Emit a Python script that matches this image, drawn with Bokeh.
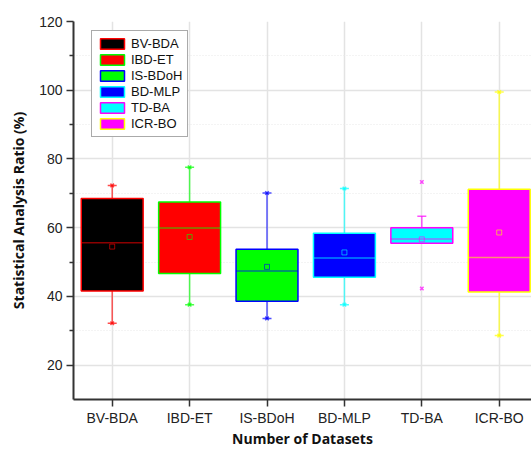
from bokeh.plotting import figure
from bokeh.models import ColumnDataSource, FixedTicker, Legend, LegendItem
from bokeh.embed import file_html
from bokeh.resources import INLINE

# ---- data ----
categories = ["BV-BDA", "IBD-ET", "IS-BDoH", "BD-MLP", "TD-BA", "ICR-BO"]
q1 = [41.6, 46.7, 38.6, 45.6, 55.5, 41.3]
q3 = [68.5, 67.5, 53.7, 58.4, 60.0, 71.2]
medians = [55.6, 59.9, 47.4, 51.2, 56.7, 51.3]
means = [54.5, 57.3, 48.6, 52.8, 56.6, 58.6]
whisker_low = [32.2, 37.6, 33.6, 37.6, 55.5, 28.6]
whisker_high = [72.3, 77.6, 70.1, 71.4, 63.3, 99.5]
extreme_min = [32.2, 37.6, 33.6, 37.6, 42.3, 28.6]
extreme_max = [72.3, 77.6, 70.1, 71.4, 73.3, 99.5]
y_ticks = [20, 40, 60, 80, 100, 120]
y_minor = [30, 50, 70, 90, 110]

fills = ["#000000", "#ff0000", "#00ff00", "#0000ff", "#00ffff", "#ff00ff"]
edges = ["#ff0000", "#00ff00", "#0000ff", "#00ffff", "#ff00ff", "#ffff00"]

xs = list(range(1, len(categories) + 1))
box_w = 0.8

src = ColumnDataSource(dict(
    x=xs, cat=categories, q1=q1, q3=q3, med=medians, mean=means,
    wlo=whisker_low, whi=whisker_high, emin=extreme_min, emax=extreme_max,
    x0=[x - box_w / 2 for x in xs], x1=[x + box_w / 2 for x in xs],
    fill=fills, edge=edges,
))

p = figure(width=531, height=450, output_backend="svg", toolbar_location=None,
           x_range=(0.5, 6.417), y_range=(10, 120),
           min_border_left=73, min_border_right=0, min_border_top=21, min_border_bottom=51)
p.outline_line_color = None
p.background_fill_color = "white"

# grids
p.xgrid.ticker = FixedTicker(ticks=xs)
p.xgrid.grid_line_color = "#e3e3e3"
p.xgrid.grid_line_width = 1.5
p.ygrid.ticker = FixedTicker(ticks=y_ticks, minor_ticks=y_minor)
p.ygrid.grid_line_color = "#e3e3e3"
p.ygrid.grid_line_width = 1.5
p.ygrid.minor_grid_line_color = "#e8e8e8"
p.ygrid.minor_grid_line_dash = "1 2"
p.ygrid.minor_grid_line_width = 1

# whiskers
p.segment(x0="x", y0="q3", x1="x", y1="whi", line_color="edge", line_alpha=0.65, line_width=1.5, source=src)
p.segment(x0="x", y0="q1", x1="x", y1="wlo", line_color="edge", line_alpha=0.65, line_width=1.5, source=src)
p.scatter(x="x", y="whi", marker="dash", size=9, line_color="edge", line_alpha=0.7, line_width=1.5, source=src)
p.scatter(x="x", y="wlo", marker="dash", size=9, line_color="edge", line_alpha=0.7, line_width=1.5, source=src)
p.scatter(x="x", y="emax", marker="x", size=5, line_color="edge", line_alpha=0.7, line_width=1.5, source=src)
p.scatter(x="x", y="emin", marker="x", size=5, line_color="edge", line_alpha=0.7, line_width=1.5, source=src)

# boxes
boxes = p.vbar(x="x", width=box_w, top="q3", bottom="q1", fill_color="fill",
               line_color="edge", line_width=1.5, source=src)
# medians and means
p.segment(x0="x0", y0="med", x1="x1", y1="med", line_color="edge", line_alpha=0.55, line_width=1.5, source=src)
p.scatter(x="x", y="mean", marker="square", size=5, fill_color=None, line_color="edge",
          line_alpha=0.6, line_width=1, source=src)

# legend
legend = Legend(items=[LegendItem(label=dict(field="cat"), renderers=[boxes])], location=(18, 262))
p.add_layout(legend, "center")
legend.border_line_color = "#555555"
legend.border_line_width = 1
legend.background_fill_alpha = 1
legend.padding = 5
legend.spacing = 1
legend.margin = 0
legend.glyph_width = 30
legend.glyph_height = 13
legend.label_height = 13
legend.label_standoff = 4
legend.label_text_font = "Liberation Sans"
legend.label_text_font_size = "13px"
legend.label_text_color = "#111111"

# axes
for ax in (p.xaxis[0], p.yaxis[0]):
    ax.axis_line_color = "#333333"
    ax.axis_line_width = 2
    ax.major_tick_line_color = "#333333"
    ax.major_tick_line_width = 1.5
    ax.minor_tick_line_color = "#333333"
    ax.minor_tick_line_width = 1.5
    ax.major_tick_in = 0
    ax.major_tick_out = 7
    ax.minor_tick_in = 0
    ax.minor_tick_out = 4
    ax.major_label_text_font = "Liberation Sans"
    ax.major_label_text_font_size = "14px"
    ax.major_label_text_color = "#222222"
    ax.axis_label_text_font = "Open Sans"
    ax.axis_label_text_font_style = "bold"
    ax.axis_label_text_font_size = "14px"
    ax.axis_label_text_color = "#111111"

p.xaxis.ticker = FixedTicker(ticks=xs, minor_ticks=[])
p.xaxis.major_label_overrides = {x: c for x, c in zip(xs, categories)}
p.xaxis.major_label_standoff = 3
p.xaxis.axis_label = "Number of Datasets"
p.xaxis.axis_label_standoff = 0

p.yaxis.ticker = FixedTicker(ticks=y_ticks, minor_ticks=y_minor)
p.yaxis.major_label_standoff = 4
p.yaxis.axis_label = "Statistical Analysis Ratio (%)"
p.yaxis.axis_label_standoff = 8

open("out.html", "w").write(file_html(p, INLINE))
